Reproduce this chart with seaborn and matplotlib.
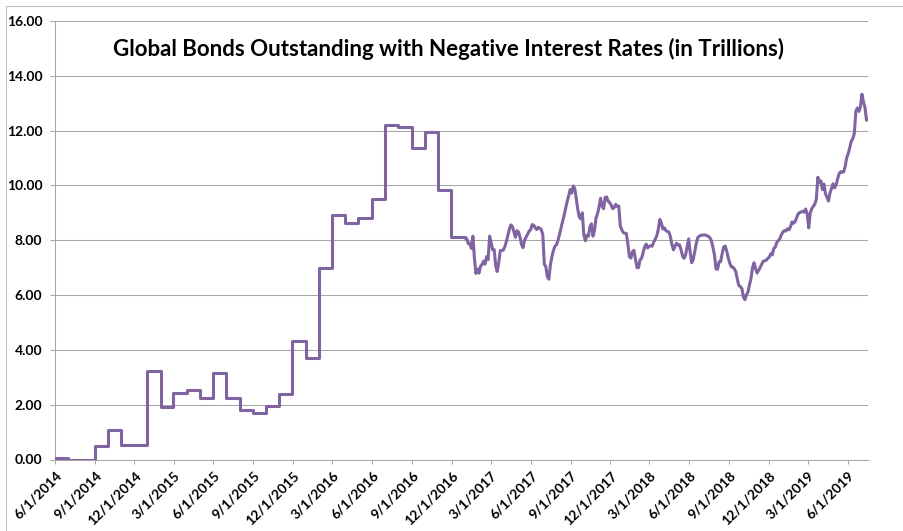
import matplotlib
matplotlib.use("Agg")
import matplotlib.pyplot as plt
import seaborn as sns
import pandas as pd
from matplotlib.lines import Line2D

sns.set_style("white")
plt.rcParams["font.family"] = ["Lato", "DejaVu Sans"]

# Month-end totals (trillions), held flat until the next month-end
month_end_dates = [
    "2014-06-01", "2014-06-30", "2014-08-31", "2014-09-30", "2014-10-31",
    "2014-12-31", "2015-01-31", "2015-02-28", "2015-03-31", "2015-04-30",
    "2015-05-31", "2015-06-30", "2015-07-31", "2015-08-31", "2015-09-30",
    "2015-10-31", "2015-11-30", "2015-12-31", "2016-01-31", "2016-02-29",
    "2016-03-31", "2016-04-30", "2016-05-31", "2016-06-30", "2016-07-31",
    "2016-08-31", "2016-09-30", "2016-10-31", "2016-11-30",
]
month_end_values = [
    0.06, 0.00, 0.49, 1.09, 0.52,
    3.22, 1.91, 2.43, 2.53, 2.26,
    3.16, 2.26, 1.80, 1.70, 1.97,
    2.38, 4.31, 3.71, 6.97, 8.92,
    8.64, 8.81, 9.51, 12.19, 12.12,
    11.35, 11.95, 9.83, 8.12,
]

# Twice-weekly readings (every 3.5 days) from January 2017 onward (trillions)
frequent_start = "2017-01-01"
frequent_step = "84h"
frequent_values = [
    8.10, 8.05, 7.87, 7.89, 7.70, 8.15, 7.35, 6.79, 6.95, 6.80,
    7.05, 7.11, 7.24, 7.13, 7.40, 7.29, 8.15, 7.92, 7.65, 7.66,
    7.08, 6.86, 7.18, 7.62, 7.63, 7.64, 7.76, 7.95, 8.18, 8.40,
    8.56, 8.50, 8.31, 8.11, 8.35, 8.30, 8.11, 7.84, 7.73, 8.01,
    8.11, 8.22, 8.33, 8.39, 8.57, 8.55, 8.46, 8.39, 8.47, 8.44,
    8.39, 8.20, 7.13, 7.03, 6.67, 6.58, 7.10, 7.40, 7.63, 7.78,
    7.83, 8.00, 8.21, 8.45, 8.68, 8.90, 9.16, 9.41, 9.61, 9.85,
    9.72, 9.98, 9.90, 9.53, 9.13, 8.85, 8.78, 9.00, 8.20, 7.98,
    8.18, 8.15, 8.49, 8.60, 8.15, 8.35, 8.80, 8.97, 9.20, 9.53,
    9.25, 9.15, 9.56, 9.58, 9.42, 9.38, 9.28, 9.15, 9.20, 9.31,
    9.23, 9.25, 8.52, 8.38, 8.28, 8.25, 8.25, 7.85, 7.40, 7.35,
    7.58, 7.63, 7.30, 7.00, 7.00, 7.29, 7.34, 7.55, 7.75, 7.86,
    7.72, 7.78, 7.80, 7.78, 7.93, 8.04, 8.16, 8.40, 8.76, 8.63,
    8.41, 8.45, 8.35, 8.32, 8.30, 8.12, 7.83, 7.65, 7.78, 7.89,
    7.83, 7.83, 7.65, 7.41, 7.34, 7.48, 7.76, 8.05, 7.55, 7.18,
    7.30, 7.59, 7.88, 8.10, 8.15, 8.18, 8.19, 8.19, 8.19, 8.17,
    8.14, 8.09, 7.97, 7.73, 7.45, 6.95, 6.94, 7.21, 7.22, 7.50,
    7.75, 7.79, 7.61, 7.37, 7.17, 7.03, 7.02, 6.96, 6.85, 6.58,
    6.35, 6.31, 6.24, 5.93, 5.83, 6.01, 6.11, 6.37, 6.60, 7.00,
    7.18, 6.97, 6.80, 6.90, 7.00, 7.12, 7.23, 7.25, 7.27, 7.34,
    7.38, 7.51, 7.47, 7.70, 7.75, 7.92, 7.99, 8.06, 8.20, 8.30,
    8.35, 8.34, 8.42, 8.38, 8.49, 8.67, 8.62, 8.68, 8.82, 8.96,
    9.01, 9.03, 9.06, 9.02, 9.14, 8.95, 8.45, 9.00, 9.15, 9.24,
    9.32, 9.50, 10.30, 10.10, 10.17, 9.85, 10.05, 9.70, 9.56, 9.43,
    9.73, 9.89, 10.06, 9.91, 10.02, 10.24, 10.43, 10.50, 10.48, 10.50,
    10.70, 11.01, 11.17, 11.38, 11.61, 11.71, 11.90, 12.70, 12.83, 12.70,
    12.86, 13.33, 13.05, 12.85, 12.38, 12.42,
]

tick_labels = [
    "6/1/2014", "9/1/2014", "12/1/2014", "3/1/2015", "6/1/2015", "9/1/2015",
    "12/1/2015", "3/1/2016", "6/1/2016", "9/1/2016", "12/1/2016", "3/1/2017",
    "6/1/2017", "9/1/2017", "12/1/2017", "3/1/2018", "6/1/2018", "9/1/2018",
    "12/1/2018", "3/1/2019", "6/1/2019",
]
y_ticks = [0, 2, 4, 6, 8, 10, 12, 14, 16]

title = "Global Bonds Outstanding with Negative Interest Rates (in Trillions)"

PURPLE = "#8064A2"
GRID = "#A6A6A6"

frequent_dates = pd.date_range(frequent_start, periods=len(frequent_values),
                               freq=frequent_step)
step_df = pd.DataFrame({
    "date": pd.to_datetime(month_end_dates + [frequent_start]),
    "value": month_end_values + [frequent_values[0]],
})
line_df = pd.DataFrame({"date": frequent_dates, "value": frequent_values})

W, H = 904, 531
fig = plt.figure(figsize=(W / 100, H / 100), dpi=100)
fig.patch.set_facecolor("white")
ax = fig.add_axes([55 / W, 1 - 459.5 / H, (868 - 55) / W, (459.5 - 21) / H])

sns.lineplot(data=step_df, x="date", y="value", ax=ax, color=PURPLE,
             linewidth=2.2, drawstyle="steps-post", zorder=3)
sns.lineplot(data=line_df, x="date", y="value", ax=ax, color=PURPLE,
             linewidth=2.2, zorder=3)

ax.set_xlim(step_df["date"].iloc[0], frequent_dates[-1])
ax.set_ylim(0, 16)
ax.set_yticks(y_ticks)
ax.set_yticklabels([f"{v:.2f}" for v in y_ticks], fontsize=10, fontweight="bold")
ax.set_xticks(pd.to_datetime(tick_labels, format="%m/%d/%Y"))
ax.set_xticklabels(tick_labels, rotation=45, ha="right", va="top",
                   rotation_mode="anchor", fontsize=10, fontweight="bold")
ax.set_xlabel("")
ax.set_ylabel("")

ax.yaxis.grid(True, color=GRID, linewidth=0.75)
ax.xaxis.grid(False)
ax.set_axisbelow(True)
for side in ("top", "right"):
    ax.spines[side].set_visible(False)
for side in ("left", "bottom"):
    ax.spines[side].set_color(GRID)
    ax.spines[side].set_linewidth(0.75)

ax.tick_params(axis="y", direction="out", length=3.6, width=0.75,
               color=GRID, labelcolor="black", pad=5.5, left=True)
ax.tick_params(axis="x", direction="out", length=3.0, width=0.75,
               color=GRID, labelcolor="black", pad=4, bottom=True)

fig.text(449 / W, 1 - 49 / H, title, ha="center", va="center",
         fontsize=16, fontweight="bold", color="black")

# outer chart frame
fig.add_artist(Line2D([6.5 / W, 6.5 / W], [0, 1 - 5.5 / H],
                      transform=fig.transFigure, color="#C0C0C0", linewidth=0.8))
fig.add_artist(Line2D([6.5 / W, 1], [1 - 5.5 / H, 1 - 5.5 / H],
                      transform=fig.transFigure, color="#C0C0C0", linewidth=0.8))

fig.savefig("out.png", dpi=100)
